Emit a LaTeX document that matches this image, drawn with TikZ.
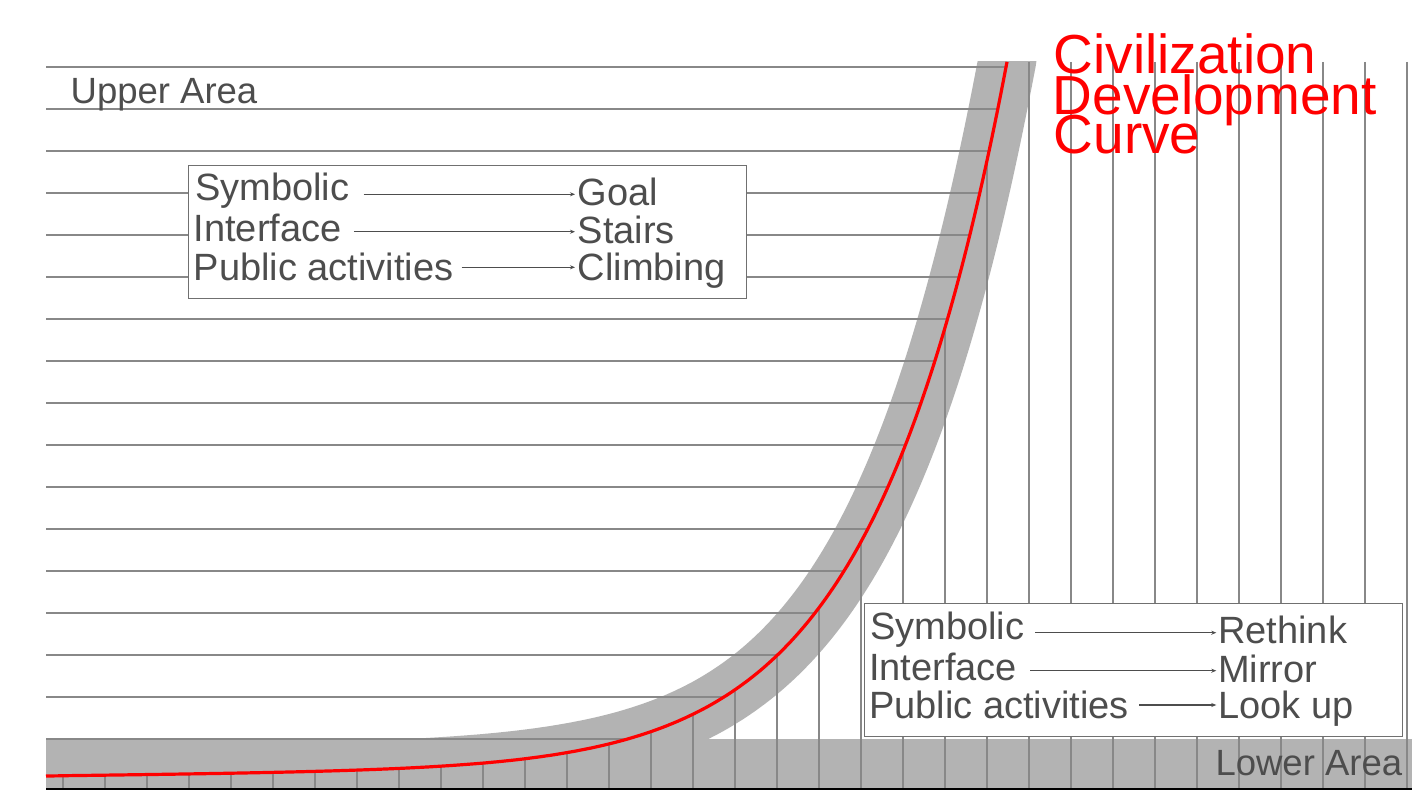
\documentclass[tikz,border=0pt]{standalone}
\usepackage{fontspec}
\setmainfont{Liberation Sans}
\usetikzlibrary{calc,arrows.meta}
\definecolor{txt}{HTML}{4D4D4D}
\definecolor{gridc}{HTML}{888888}
\definecolor{bandc}{HTML}{B3B3B3}
\definecolor{framec}{HTML}{707070}
\begin{document}
\begin{tikzpicture}[x=1bp,y=-1bp,
  gridline/.style={draw=gridc, line width=1.4bp},
  framebox/.style={draw=framec, fill=white, line width=1.4bp, inner sep=0pt},
  lbl/.style={font=\fontsize{38bp}{44bp}\selectfont, text=txt, inner sep=0pt, anchor=base west},
  area/.style={font=\fontsize{36.5bp}{42bp}\selectfont, text=txt, inner sep=0pt, anchor=base west},
  ttl/.style={font=\fontsize{55bp}{40bp}\selectfont, text=red, inner sep=0pt, anchor=base west},
  arr/.style={draw=txt, line width=1.1bp, -{Stealth[length=5bp,width=4bp]}}]
\useasboundingbox (0,0) rectangle (1412,790);
\fill[white] (0,0) rectangle (1412,790);
\def\civcurve{plot[domain=46:1007, samples=320, variable=\t] (\t, {776 - 0.012*(\t-46) - 702.5*exp(0.0075*(\t-1007) - (0.001449*(\t-1007))^2)})}
% lower strip
\fill[bandc] (46,739) rectangle (1412,788);
% band along the curve
\begin{scope}
  \clip (46,62) rectangle (1412,788);
  \draw[bandc, line width=58bp] \civcurve -- (1011,35);
\end{scope}
% horizontal grid (upper area)
\begin{scope}
  \clip \civcurve -- (1007,0) -- (0,0) -- (0,776) -- cycle;
  \foreach \k in {0,...,16} \draw[gridline] (46,67+42*\k) -- (1412,67+42*\k);
\end{scope}
% vertical grid (lower area)
\begin{scope}
  \clip \civcurve -- (1412,62) -- (1412,790) -- (46,790) -- cycle;
  \foreach \k in {0,...,32} \draw[gridline] (63+42*\k,62) -- (63+42*\k,789);
\end{scope}
% curve
\draw[red, line width=3.2bp] \civcurve;
\draw[black, line width=2.6bp] (46,789) -- (1412,789);
% labels
\node[area] (upper) at (70.5,103.3) {Upper Area};
\node[area] (lower) at (1215.3,775) {Lower Area};
\node[ttl] (title1) at (1053.5,73.3) {Civilization};
\node[ttl] (title2) at (1052.5,114.3) {Development};
\node[ttl] (title3) at (1053.5,153.3) {Curve};
% upper box
\node[framebox, minimum width=558bp, minimum height=133bp, anchor=north west] (boxup) at (187.5,164.5) {};
\node[lbl] (s1) at (195,200.7) {Symbolic};
\node[lbl] (s2) at (193.5,241.7) {Interface};
\node[lbl] (s3) at (193.5,280.7) {Public activities};
\node[lbl] (g1) at (577.5,205) {Goal};
\node[lbl] (g2) at (577.5,243.3) {Stairs};
\node[lbl] (g3) at (577.5,280.7) {Climbing};
\draw[arr] ($(s1.base east)+(14,-6.4)$) -- ($(g1.base west)+(-2.5,-10.7)$);
\draw[arr] ($(s2.base east)+(12,-10)$) -- ($(g2.base west)+(-2.5,-11.6)$);
\draw[arr] ($(s3.base east)+(8,-13.4)$) -- ($(g3.base west)+(-2.5,-13.4)$);
% lower box
\node[framebox, minimum width=538.4bp, minimum height=133.3bp, anchor=north west] (boxlow) at (863.6,602.7) {};
\node[lbl] (t1) at (870,639.3) {Symbolic};
\node[lbl] (t2) at (869,680.7) {Interface};
\node[lbl] (t3) at (869,718.3) {Public activities};
\node[lbl] (r1) at (1218,643.3) {Rethink};
\node[lbl] (r2) at (1218,682.7) {Mirror};
\node[lbl] (r3) at (1218,718.3) {Look up};
\draw[arr] ($(t1.base east)+(10.5,-6.6)$) -- ($(r1.base west)+(-1.7,-10.6)$);
\draw[arr] ($(t2.base east)+(13,-10)$) -- ($(r2.base west)+(-1.7,-12)$);
\draw[arr] ($(t3.base east)+(10,-13.3)$) -- ($(r3.base west)+(-1.7,-13.3)$);
\end{tikzpicture}
\end{document}
